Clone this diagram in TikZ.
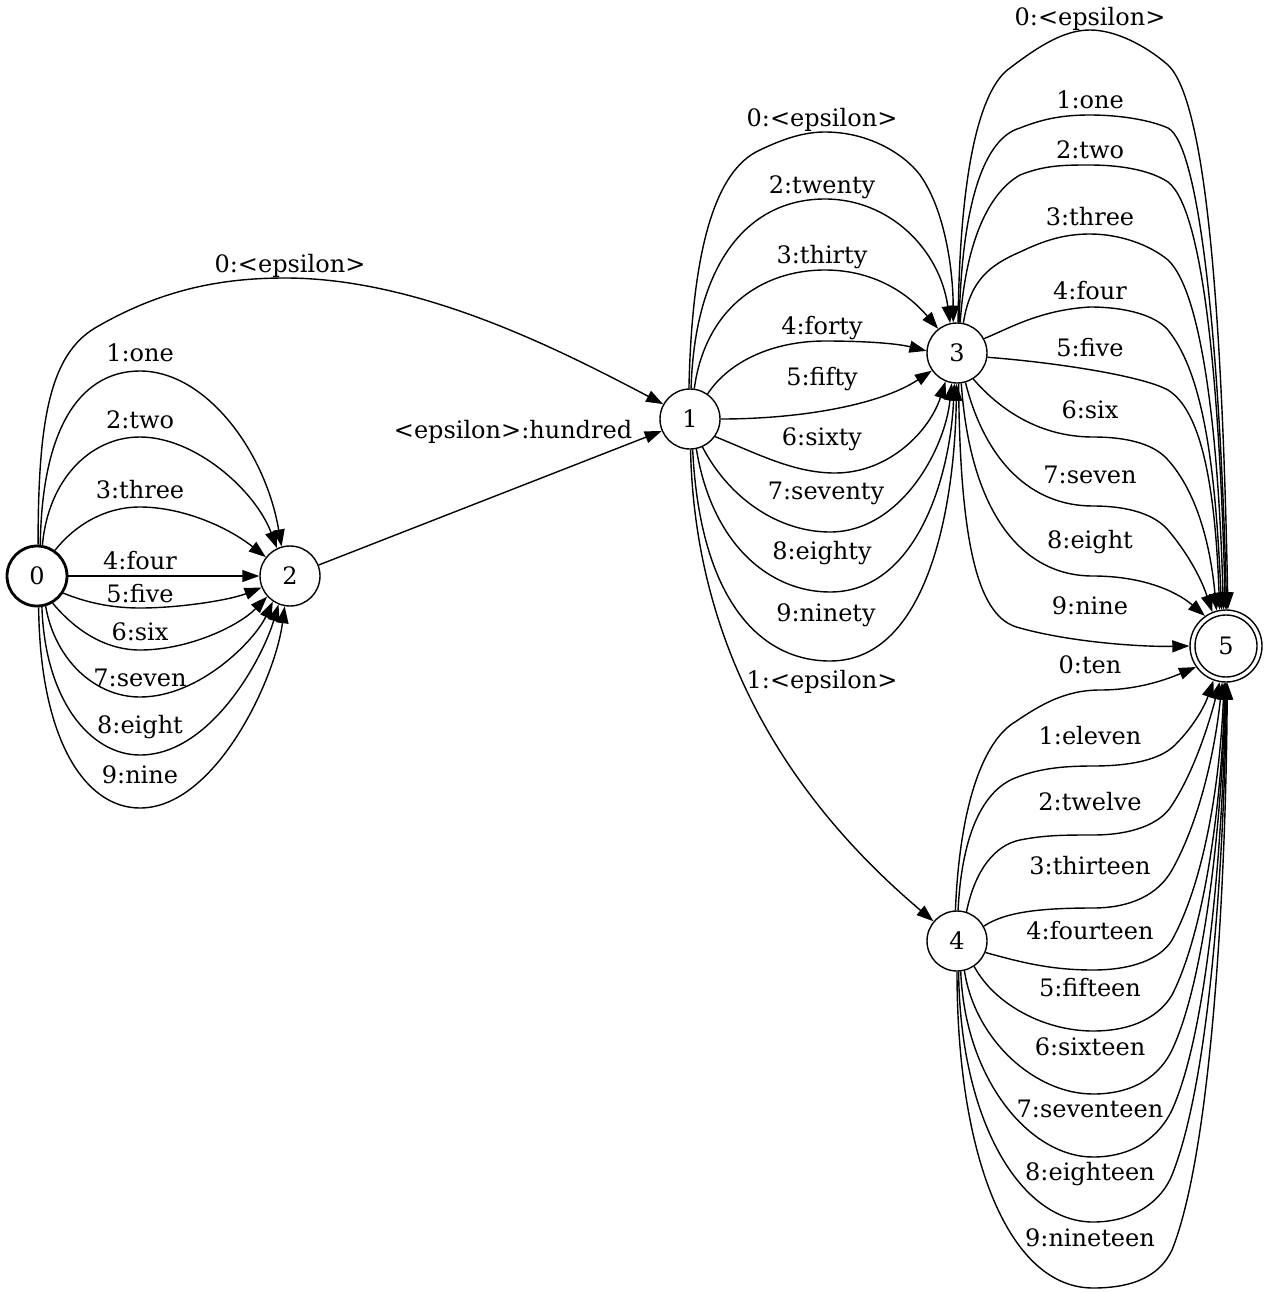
\documentclass[tikz,border=0pt]{standalone}
\usepackage{fontspec}
\setmainfont{DejaVu Serif}
\usetikzlibrary{shapes.geometric,arrows.meta}
\begin{document}
\begin{tikzpicture}[x=1pt,y=-1pt,
  font=\fontsize{24}{28}\selectfont,
  state/.style={circle,draw,line width=1.4pt,minimum size=60pt,inner sep=0pt},
  lbl/.style={inner sep=0pt,text height=17pt,text depth=0pt},
  edge/.style={line width=1.4pt,-{Triangle[length=17pt,width=12pt]}}]
\useasboundingbox (0,0) rectangle (1275,1293);
% nodes
\node[state,line width=2.8pt] (n0) at (37,576) {0};
\node[state] (n2) at (290,576) {2};
\node[state] (n1) at (690,419) {1};
\node[state] (n3) at (957,353) {3};
\node[state] (n4) at (957,941) {4};
\node[state,minimum size=72pt] (n5) at (1226,646) {5};
\draw[line width=1.4pt] (n5.center) circle[radius=31];
% 0 -> 2
\draw[edge] (n0.84) .. controls (42,420) and (85,371) .. (140,371) .. controls (205,371) and (265,450) .. (n2.106);
\draw[edge] (n0.80) .. controls (48,480) and (90,437) .. (140,437) .. controls (195,437) and (255,490) .. (n2.115);
\draw[edge] (n0.55) .. controls (75,525) and (105,507) .. (140,507) .. controls (180,507) and (225,525) .. (n2.142);
\draw[edge] (n0.0) -- (n2.180);
\draw[edge] (n0.-33) .. controls (85,602) and (110,608) .. (140,608) .. controls (180,608) and (230,600) .. (n2.-158);
\draw[edge] (n0.-60) .. controls (75,630) and (105,650) .. (140,650) .. controls (190,650) and (240,625) .. (n2.-138);
\draw[edge] (n0.-74) .. controls (55,660) and (95,697) .. (140,697) .. controls (200,697) and (255,640) .. (n2.-124);
\draw[edge] (n0.-81) .. controls (45,700) and (90,755) .. (140,755) .. controls (210,755) and (262,660) .. (n2.-112);
\draw[edge] (n0.-87) .. controls (40,740) and (85,808) .. (140,808) .. controls (215,808) and (275,680) .. (n2.-100);
\node[lbl] (l02a) at (140,353) {1:one};
\node[lbl] (l02b) at (140,420) {2:two};
\node[lbl] (l02c) at (140,490) {3:three};
\node[lbl] (l02d) at (140,561) {4:four};
\node[lbl] (l02e) at (140,594) {5:five};
\node[lbl] (l02f) at (140,632) {6:six};
\node[lbl] (l02g) at (140,678) {7:seven};
\node[lbl] (l02h) at (140,725) {8:eight};
\node[lbl] (l02i) at (140,775) {9:nine};
% 0 -> 1, 2 -> 1
\draw[edge] (n0.88) .. controls (38,420) and (50,355) .. (95,328) .. controls (160,290) and (220,278) .. (285,278) .. controls (420,278) and (560,350) .. (n1.151);
\node[lbl] (l01) at (290,264) {0:<epsilon>};
\draw[edge] (n2.21) -- (n1.-157);
\node[lbl] (l21) at (513,430) {<epsilon>:hundred};
% 1 -> 3
\draw[edge] (n1.92) .. controls (692,250) and (715,170) .. (760,150) .. controls (785,138) and (805,132) .. (825,132) .. controls (870,132) and (905,155) .. (920,175) .. controls (945,210) and (953,270) .. (n3.97);
\draw[edge] (n1.88) .. controls (695,260) and (750,199) .. (825,199) .. controls (890,199) and (940,250) .. (n3.103);
\draw[edge] (n1.82) .. controls (705,310) and (760,270) .. (825,270) .. controls (870,270) and (905,290) .. (n3.128);
\draw[edge] (n1.55) .. controls (730,360) and (775,341) .. (825,341) .. controls (860,341) and (895,343) .. (n3.176);
\draw[edge] (n1.0) .. controls (800,419) and (880,405) .. (n3.-145);
\draw[edge] (n1.-35) .. controls (760,455) and (795,473) .. (835,473) .. controls (890,473) and (930,430) .. (n3.-112);
\draw[edge] (n1.-66) .. controls (730,500) and (780,532) .. (830,532) .. controls (900,532) and (945,450) .. (n3.-100);
\draw[edge] (n1.-78) .. controls (712,545) and (770,592) .. (830,592) .. controls (915,592) and (950,480) .. (n3.-95);
\draw[edge] (n1.-85) .. controls (700,600) and (760,661) .. (830,661) .. controls (930,661) and (955,500) .. (n3.-91);
\node[lbl] (l13a) at (822,118) {0:<epsilon>};
\node[lbl] (l13b) at (822,185) {2:twenty};
\node[lbl] (l13c) at (822,255) {3:thirty};
\node[lbl] (l13d) at (822,326) {4:forty};
\node[lbl] (l13e) at (822,377) {5:fifty};
\node[lbl] (l13f) at (822,437) {6:sixty};
\node[lbl] (l13g) at (826,491) {7:seventy};
\node[lbl] (l13h) at (822,551) {8:eighty};
\node[lbl] (l13i) at (826,613) {9:ninety};
% 1 -> 4
\draw[edge] (n1.-89) .. controls (695,650) and (790,800) .. (n4.140);
\node[lbl] (l14) at (822,680) {1:<epsilon>};
% 3 -> 5
\draw[edge] (n3.88) .. controls (960,150) and (985,85) .. (1010,68) .. controls (1040,45) and (1065,30) .. (1090,30) .. controls (1115,30) and (1145,45) .. (1168,65) .. controls (1205,100) and (1222,300) .. (n5.87);
\draw[edge] (n3.86) .. controls (962,200) and (985,138) .. (1020,128) .. controls (1045,118) and (1065,115) .. (1090,115) .. controls (1120,115) and (1150,120) .. (1168,128) .. controls (1200,145) and (1220,350) .. (n5.89);
\draw[edge] (n3.84) .. controls (965,250) and (985,195) .. (1020,175) .. controls (1045,165) and (1065,165) .. (1090,165) .. controls (1120,165) and (1150,170) .. (1168,182) .. controls (1205,210) and (1220,400) .. (n5.91);
\draw[edge] (n3.78) .. controls (970,280) and (990,265) .. (1020,252) .. controls (1045,240) and (1065,234) .. (1090,234) .. controls (1120,234) and (1150,245) .. (1168,260) .. controls (1200,290) and (1218,420) .. (n5.94);
\draw[edge] (n3.28) .. controls (1010,328) and (1040,310) .. (1090,307) .. controls (1125,307) and (1155,315) .. (1168,330) .. controls (1200,370) and (1215,450) .. (n5.97);
\draw[edge] (n3.-8) .. controls (1050,362) and (1140,375) .. (1168,390) .. controls (1200,410) and (1215,480) .. (n5.100);
\draw[edge] (n3.-58) .. controls (1000,410) and (1040,437) .. (1093,437) .. controls (1130,437) and (1155,445) .. (1168,460) .. controls (1195,490) and (1210,540) .. (n5.105);
\draw[edge] (n3.-74) .. controls (985,460) and (1030,506) .. (1093,506) .. controls (1130,506) and (1155,515) .. (1168,530) .. controls (1185,550) and (1200,575) .. (n5.112);
\draw[edge] (n3.-82) .. controls (970,510) and (1020,576) .. (1093,576) .. controls (1140,576) and (1175,590) .. (n5.125);
\draw[edge] (n3.-87) .. controls (960,570) and (985,620) .. (1020,628) .. controls (1070,642) and (1140,647) .. (n5.180);
\node[lbl] (l35a) at (1090,17) {0:<epsilon>};
\node[lbl] (l35b) at (1090,100) {1:one};
\node[lbl] (l35c) at (1090,150) {2:two};
\node[lbl] (l35d) at (1090,217) {3:three};
\node[lbl] (l35e) at (1090,291) {4:four};
\node[lbl] (l35f) at (1090,348) {5:five};
\node[lbl] (l35g) at (1090,410) {6:six};
\node[lbl] (l35h) at (1090,475) {7:seven};
\node[lbl] (l35i) at (1090,540) {8:eight};
\node[lbl] (l35j) at (1090,606) {9:nine};
% 4 -> 5
\draw[edge] (n4.93) .. controls (960,800) and (985,740) .. (1015,722) .. controls (1040,705) and (1065,690) .. (1100,690) .. controls (1140,690) and (1170,678) .. (n5.-145);
\draw[edge] (n4.88) .. controls (962,830) and (985,790) .. (1015,778) .. controls (1040,768) and (1065,766) .. (1093,766) .. controls (1130,766) and (1160,760) .. (1175,745) .. controls (1195,725) and (1205,705) .. (n5.-110);
\draw[edge] (n4.72) .. controls (975,870) and (995,845) .. (1020,840) .. controls (1045,835) and (1065,835) .. (1093,835) .. controls (1130,835) and (1160,825) .. (1172,805) .. controls (1195,770) and (1210,720) .. (n5.-100);
\draw[edge] (n4.29) .. controls (1005,912) and (1040,908) .. (1093,908) .. controls (1130,908) and (1158,895) .. (1172,870) .. controls (1200,820) and (1215,750) .. (n5.-96);
\draw[edge] (n4.-22) .. controls (1020,962) and (1050,970) .. (1093,970) .. controls (1130,970) and (1160,960) .. (1172,940) .. controls (1205,880) and (1220,780) .. (n5.-93);
\draw[edge] (n4.-56) .. controls (995,1005) and (1045,1031) .. (1093,1031) .. controls (1135,1031) and (1160,1015) .. (1172,995) .. controls (1205,930) and (1222,800) .. (n5.-92);
\draw[edge] (n4.-76) .. controls (975,1040) and (1035,1094) .. (1093,1094) .. controls (1135,1094) and (1160,1075) .. (1172,1050) .. controls (1205,980) and (1222,820) .. (n5.-91);
\draw[edge] (n4.-83) .. controls (965,1080) and (1030,1157) .. (1093,1157) .. controls (1135,1157) and (1160,1135) .. (1172,1110) .. controls (1208,1030) and (1223,840) .. (n5.-90);
\draw[edge] (n4.-87) .. controls (960,1120) and (1020,1222) .. (1093,1222) .. controls (1135,1222) and (1162,1200) .. (1172,1175) .. controls (1210,1080) and (1224,860) .. (n5.-89);
\draw[edge] (n4.-90) .. controls (957,1160) and (1010,1288) .. (1093,1288) .. controls (1135,1288) and (1160,1275) .. (1172,1250) .. controls (1212,1150) and (1226,880) .. (n5.-88);
\node[lbl] (l45a) at (1090,665) {0:ten};
\node[lbl] (l45b) at (1090,736) {1:eleven};
\node[lbl] (l45c) at (1090,802) {2:twelve};
\node[lbl] (l45d) at (1090,866) {3:thirteen};
\node[lbl] (l45e) at (1090,931) {4:fourteen};
\node[lbl] (l45f) at (1090,988) {5:fifteen};
\node[lbl] (l45g) at (1090,1047) {6:sixteen};
\node[lbl] (l45h) at (1090,1109) {7:seventeen};
\node[lbl] (l45i) at (1090,1172) {8:eighteen};
\node[lbl] (l45j) at (1090,1238) {9:nineteen};
\end{tikzpicture}
\end{document}
